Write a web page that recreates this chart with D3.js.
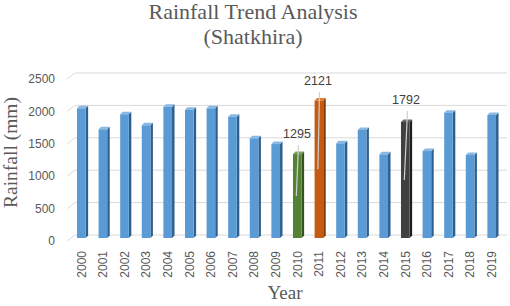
<!DOCTYPE html>
<html>
<head>
<meta charset="utf-8">
<script src="https://cdn.jsdelivr.net/npm/d3@7"></script>
<style>
  body { margin: 0; background: #fff; }
  svg { display: block; }
</style>
</head>
<body>
<div id="chart"></div>
<script>
// rainfall by year, Shatkhira — 3D-ish column chart

const years = ["2000","2001","2002","2003","2004","2005","2006","2007","2008","2009",
               "2010","2011","2012","2013","2014","2015","2016","2017","2018","2019"];
const rainfall = [2001, 1677, 1909, 1739, 2026, 1980, 2001, 1872, 1538, 1450,
                  1295, 2121, 1461, 1667, 1291, 1792, 1342, 1934, 1281, 1898];
const yTicks = [0, 500, 1000, 1500, 2000, 2500];
const labelledYears = ["2010", "2011", "2015"];

const width = 510;
const height = 306;

// depth offsets for the fake perspective
const depthX = 7.5, depthY = -6;
const barDX = 2.5, barDY = -2.5;

const palette = {
  blue:   { front: "#5b9bd5", side: "#2f5f8f", top: "#8ab8e3" },
  green:  { front: "#548235", side: "#35531f", top: "#7aa35a" },
  orange: { front: "#c55a11", side: "#7f3a0b", top: "#e07a35" },
  dark:   { front: "#404040", side: "#1f1f1f", top: "#6a6a6a" }
};
const colourFor = y => y === "2010" ? palette.green : y === "2011" ? palette.orange : y === "2015" ? palette.dark : palette.blue;

const data = years.map((y, i) => ({ year: y, value: rainfall[i] }));

const svg = d3.select("#chart").append("svg")
  .attr("width", width)
  .attr("height", height);

const x = d3.scaleBand().domain(years).range([67, 499]).paddingInner(0.6).paddingOuter(0.3);
const y = d3.scaleLinear().domain([0, 2500]).range([241, 79]);

// gridlines with slanted left edge
svg.append("g").selectAll("path")
  .data(yTicks)
  .join("path")
  .attr("d", d => `M67.3,${y(d)} L${67.3 + depthX},${y(d) + depthY} L507,${y(d) + depthY}`)
  .attr("fill", "none")
  .attr("stroke", "#d9d9d9")
  .attr("stroke-width", 1);

// y tick labels
svg.append("g").selectAll("text")
  .data(yTicks)
  .join("text")
  .attr("x", 55)
  .attr("y", d => y(d))
  .attr("dy", "0.35em")
  .attr("text-anchor", "end")
  .style("font-family", "'Liberation Sans', sans-serif")
  .style("font-size", "12px")
  .attr("fill", "#595959")
  .text(d => d);

// bars
const baseY = y(0) - 3;
const bars = svg.append("g").selectAll("g").data(data).join("g");

bars.each(function (d) {
  const g = d3.select(this);
  const c = colourFor(d.year);
  const xl = x(d.year) + 3.5;
  const w = x.bandwidth();
  const yt = y(d.value) - 3;
  g.append("polygon")
    .attr("points", [[xl + w, yt], [xl + w + barDX, yt + barDY], [xl + w + barDX, baseY + barDY], [xl + w, baseY]].join(" "))
    .attr("fill", c.side);
  g.append("polygon")
    .attr("points", [[xl, yt], [xl + barDX, yt + barDY], [xl + w + barDX, yt + barDY], [xl + w, yt]].join(" "))
    .attr("fill", c.top);
  g.append("rect")
    .attr("x", xl)
    .attr("y", yt)
    .attr("width", w)
    .attr("height", baseY - yt)
    .attr("fill", c.front);
});

// x tick labels (rotated)
svg.append("g").selectAll("text")
  .data(years)
  .join("text")
  .attr("transform", d => `translate(${x(d) + 3.5 + x.bandwidth() / 2},251) rotate(-90)`)
  .attr("dy", "0.35em")
  .attr("text-anchor", "end")
  .style("font-family", "'Liberation Sans', sans-serif")
  .style("font-size", "12px")
  .attr("fill", "#595959")
  .text(d => d);

// data labels with leader lines
const labelPos = { "2010": [297, 134], "2011": [318, 81], "2015": [406, 100] };
const labelled = data.filter(d => labelledYears.includes(d.year));

svg.append("g").selectAll("line")
  .data(labelled)
  .join("line")
  .attr("x1", d => labelPos[d.year][0] + 1.5)
  .attr("y1", d => labelPos[d.year][1] + 11)
  .attr("x2", d => x(d.year) + 3.5 + x.bandwidth() / 2 - 1)
  .attr("y2", d => y(d.value / 2) - 3)
  .attr("stroke", "#d0d0d0")
  .attr("stroke-width", 1.2);

svg.append("g").selectAll("text")
  .data(labelled)
  .join("text")
  .attr("x", d => labelPos[d.year][0])
  .attr("y", d => labelPos[d.year][1])
  .attr("dy", "0.35em")
  .attr("text-anchor", "middle")
  .style("font-family", "'Liberation Sans', sans-serif")
  .style("font-size", "12.5px")
  .attr("fill", "#404040")
  .text(d => d.value);

// titles
const serif = "'Liberation Serif', 'Times New Roman', serif";
svg.append("text")
  .attr("x", 253).attr("y", 18.5)
  .attr("text-anchor", "middle")
  .style("font-family", serif).style("font-size", "22px")
  .attr("fill", "#595959")
  .text("Rainfall Trend Analysis");
svg.append("text")
  .attr("x", 253).attr("y", 44)
  .attr("text-anchor", "middle")
  .style("font-family", serif).style("font-size", "22px")
  .attr("fill", "#595959")
  .text("(Shatkhira)");

svg.append("text")
  .attr("transform", "translate(16.5,152.5) rotate(-90)")
  .attr("text-anchor", "middle")
  .style("font-family", serif).style("font-size", "19.5px")
  .attr("fill", "#595959")
  .text("Rainfall (mm)");

svg.append("text")
  .attr("x", 285).attr("y", 299)
  .attr("text-anchor", "middle")
  .style("font-family", serif).style("font-size", "19px")
  .attr("fill", "#595959")
  .text("Year");
</script>
</body>
</html>
